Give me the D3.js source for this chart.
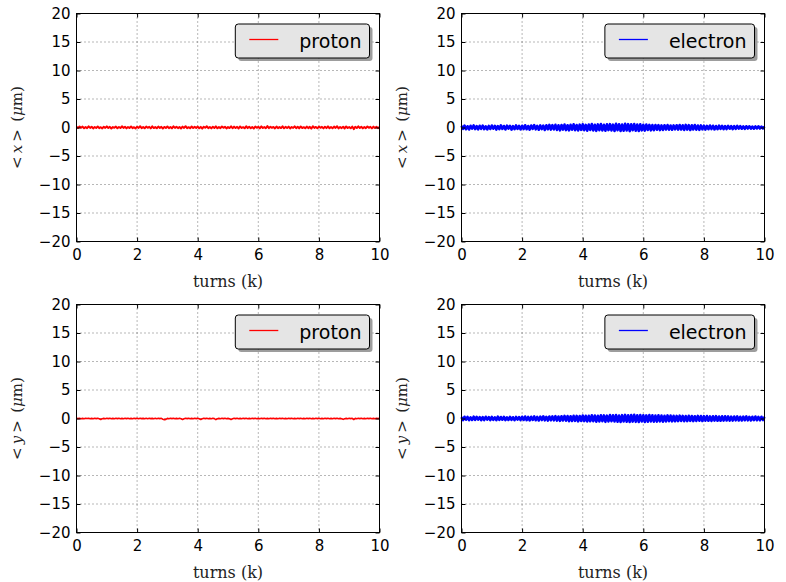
<!DOCTYPE html>
<html>
<head>
<meta charset="utf-8">
<script src="https://cdn.jsdelivr.net/npm/d3@7"></script>
<style>
  html, body { margin: 0; padding: 0; background: #fff; }
  svg { display: block; }
</style>
</head>
<body>
<svg id="fig" width="786" height="582"></svg>
<script>
// Beam centroid offsets over 10k turns, sampled every 50 turns (µm)
const turnsStepK = 0.05;
const xTicks = [0, 2, 4, 6, 8, 10];
const yTicks = [-20, -15, -10, -5, 0, 5, 10, 15, 20];

const protonX = [
  0.12,-0.10,0.18,-0.05,0.15,-0.14,0.08,-0.12,0.20,-0.06,0.13,-0.16,0.09,-0.08,0.17,-0.11,0.05,-0.15,0.14,-0.07,
  0.19,-0.09,0.11,-0.18,0.07,-0.04,0.16,-0.13,0.10,-0.10,0.21,-0.06,0.12,-0.15,0.08,-0.09,0.18,-0.12,0.06,-0.17,
  0.14,-0.08,0.22,-0.11,0.09,-0.14,0.15,-0.05,0.11,-0.16,0.19,-0.10,0.07,-0.13,0.16,-0.07,0.12,-0.18,0.10,-0.09,
  0.17,-0.12,0.08,-0.15,0.20,-0.06,0.13,-0.11,0.09,-0.17,0.15,-0.08,0.23,-0.12,0.06,-0.14,0.18,-0.10,0.11,-0.07,
  0.16,-0.13,0.10,-0.19,0.14,-0.05,0.21,-0.11,0.08,-0.15,0.12,-0.09,0.19,-0.14,0.07,-0.12,0.17,-0.06,0.13,-0.16,
  0.09,-0.10,0.20,-0.13,0.15,-0.08,0.11,-0.17,0.18,-0.07,0.06,-0.14,0.22,-0.10,0.13,-0.12,0.10,-0.18,0.16,-0.05,
  0.12,-0.15,0.19,-0.09,0.08,-0.13,0.24,-0.11,0.14,-0.06,0.10,-0.16,0.17,-0.12,0.07,-0.10,0.21,-0.14,0.11,-0.08,
  0.15,-0.17,0.09,-0.07,0.20,-0.12,0.13,-0.15,0.18,-0.09,0.06,-0.13,0.16,-0.11,0.12,-0.19,0.22,-0.08,0.10,-0.14,
  0.17,-0.06,0.11,-0.16,0.14,-0.10,0.19,-0.13,0.08,-0.12,0.15,-0.07,0.21,-0.15,0.09,-0.11,0.13,-0.17,0.18,-0.09,
  0.07,-0.14,0.16,-0.28,0.12,-0.10,0.20,-0.08,0.14,-0.15,0.10,-0.12,0.18,-0.06,0.11,-0.16,0.15,-0.09,0.13,-0.11,
  0.08
];

const electronX = [
  0.28,-0.25,0.33,-0.30,0.22,-0.35,0.31,-0.20,0.36,-0.27,0.24,-0.32,0.30,-0.23,0.34,-0.29,0.21,-0.33,0.27,-0.26,
  0.35,-0.22,0.29,-0.36,0.25,-0.28,0.38,-0.24,0.26,-0.34,0.32,-0.21,0.30,-0.37,0.23,-0.29,0.36,-0.25,0.28,-0.33,
  0.31,-0.27,0.40,-0.30,0.26,-0.38,0.34,-0.24,0.42,-0.32,0.29,-0.40,0.37,-0.28,0.33,-0.43,0.39,-0.31,0.45,-0.36,
  0.41,-0.34,0.47,-0.42,0.38,-0.49,0.44,-0.37,0.52,-0.45,0.40,-0.50,0.48,-0.39,0.55,-0.46,0.43,-0.53,0.50,-0.41,
  0.57,-0.48,0.45,-0.55,0.52,-0.44,0.60,-0.51,0.47,-0.58,0.54,-0.46,0.62,-0.53,0.49,-0.57,0.55,-0.45,0.59,-0.52,
  0.50,-0.60,0.64,-0.49,0.56,-0.62,0.53,-0.55,0.66,-0.51,0.58,-0.63,0.55,-0.48,0.61,-0.57,0.52,-0.60,0.57,-0.50,
  0.48,-0.54,0.51,-0.43,0.46,-0.50,0.42,-0.47,0.44,-0.39,0.41,-0.45,0.37,-0.42,0.39,-0.35,0.43,-0.38,0.34,-0.40,
  0.36,-0.33,0.40,-0.37,0.44,-0.35,0.38,-0.42,0.46,-0.36,0.41,-0.44,0.39,-0.34,0.43,-0.38,0.35,-0.41,0.37,-0.32,
  0.33,-0.36,0.29,-0.31,0.35,-0.27,0.30,-0.33,0.26,-0.29,0.32,-0.24,0.28,-0.30,0.25,-0.27,0.29,-0.22,0.26,-0.28,
  0.23,-0.25,0.27,-0.20,0.24,-0.22,0.19,-0.24,0.22,-0.18,0.21,-0.20,0.17,-0.21,0.19,-0.16,0.20,-0.18,0.15,-0.17,
  0.16
];

const protonY = [
  0.03,-0.02,0.04,-0.03,0.02,-0.04,0.03,-0.01,0.05,-0.03,0.02,-0.04,0.04,-0.02,0.03,-0.05,-0.18,-0.03,0.02,-0.04,
  0.03,-0.02,0.04,-0.05,0.02,-0.03,0.05,-0.02,0.03,-0.04,0.02,-0.03,0.04,-0.02,0.03,-0.05,0.02,-0.03,0.04,-0.02,
  0.03,-0.04,0.05,-0.02,0.02,-0.05,0.03,-0.03,0.04,-0.02,0.02,-0.04,0.03,-0.03,0.05,-0.02,0.03,-0.12,-0.20,-0.15,
  0.02,-0.03,0.04,-0.02,0.03,-0.05,0.02,-0.04,0.04,-0.03,-0.17,-0.04,0.03,-0.02,0.05,-0.03,0.02,-0.04,0.03,-0.02,
  0.04,-0.05,-0.16,-0.03,0.03,-0.02,0.04,-0.03,0.02,-0.04,0.03,-0.02,-0.19,-0.05,0.02,-0.03,0.04,-0.02,0.03,-0.05,
  0.02,-0.03,-0.17,-0.04,0.03,-0.02,0.05,-0.03,0.02,-0.04,0.03,-0.02,0.04,-0.03,0.02,-0.05,0.03,-0.02,0.04,-0.03,
  0.02,-0.04,0.03,-0.02,0.05,-0.03,0.02,-0.04,0.03,-0.02,0.04,-0.05,0.02,-0.03,0.03,-0.02,0.04,-0.03,0.02,-0.04,
  0.03,-0.02,0.05,-0.03,0.02,-0.04,0.03,-0.02,0.04,-0.03,0.02,-0.05,0.03,-0.02,0.04,-0.03,0.02,-0.04,0.03,-0.02,
  0.04,-0.03,0.02,-0.05,0.03,-0.02,0.04,-0.03,0.02,-0.04,0.03,-0.02,0.05,-0.03,0.02,-0.04,-0.15,-0.03,0.02,-0.04,
  0.03,-0.02,0.04,-0.18,0.02,-0.04,0.03,-0.02,0.05,-0.03,0.02,-0.04,0.03,-0.02,0.04,-0.03,0.02,-0.05,0.03,-0.02,
  0.03
];

const electronY = [
  0.25,-0.28,0.31,-0.22,0.27,-0.30,0.20,-0.26,0.32,-0.24,0.29,-0.21,0.26,-0.31,0.23,-0.27,0.30,-0.20,0.24,-0.29,
  0.28,-0.23,0.21,-0.30,0.33,-0.25,0.26,-0.22,0.30,-0.28,0.19,-0.26,0.29,-0.24,0.22,-0.31,0.27,-0.20,0.25,-0.27,
  0.30,-0.26,0.34,-0.29,0.27,-0.33,0.31,-0.25,0.36,-0.30,0.28,-0.35,0.33,-0.27,0.38,-0.32,0.29,-0.36,0.34,-0.31,
  0.37,-0.33,0.41,-0.36,0.35,-0.42,0.39,-0.34,0.45,-0.38,0.43,-0.47,0.40,-0.44,0.48,-0.41,0.46,-0.50,0.44,-0.42,
  0.51,-0.45,0.48,-0.53,0.46,-0.49,0.55,-0.47,0.52,-0.56,0.49,-0.51,0.57,-0.48,0.54,-0.58,0.50,-0.53,0.59,-0.49,
  0.56,-0.52,0.61,-0.55,0.53,-0.60,0.58,-0.51,0.63,-0.57,0.55,-0.62,0.59,-0.54,0.64,-0.58,0.56,-0.61,0.60,-0.53,
  0.57,-0.59,0.54,-0.56,0.60,-0.52,0.55,-0.57,0.51,-0.54,0.56,-0.50,0.53,-0.55,0.49,-0.52,0.54,-0.48,0.51,-0.50,
  0.47,-0.49,0.45,-0.46,0.50,-0.43,0.46,-0.47,0.42,-0.45,0.48,-0.41,0.44,-0.46,0.40,-0.43,0.45,-0.39,0.42,-0.44,
  0.41,-0.38,0.43,-0.40,0.37,-0.42,0.39,-0.36,0.41,-0.39,0.35,-0.40,0.38,-0.37,0.40,-0.34,0.36,-0.38,0.33,-0.36,
  0.35,-0.32,0.37,-0.34,0.31,-0.35,0.33,-0.30,0.36,-0.32,0.29,-0.33,0.31,-0.29,0.34,-0.30,0.28,-0.32,0.30,-0.27,
  0.29
];

const panels = [
  { values: protonX,   name: "proton",   color: "#ff0000", width: 2.0, coord: "x", left: 76.5,  top: 13.5 },
  { values: electronX, name: "electron", color: "#0000ff", width: 2.6, coord: "x", left: 461.5, top: 13.5 },
  { values: protonY,   name: "proton",   color: "#ff0000", width: 1.6, coord: "y", left: 76.5,  top: 304.5 },
  { values: electronY, name: "electron", color: "#0000ff", width: 2.6, coord: "y", left: 461.5, top: 304.5 }
];

const W = 303, H = 228;
const svg = d3.select("#fig");
const fmt = d => d < 0 ? "\u2212" + Math.abs(d) : String(d);
const sansFont = "'DejaVu Sans', 'Liberation Sans', sans-serif";
const serifFont = "'DejaVu Serif', 'Liberation Serif', serif";

panels.forEach(p => {
  const g = svg.append("g").attr("transform", `translate(${p.left},${p.top})`);
  const x = d3.scaleLinear().domain([0, 10]).range([0, W]);
  const y = d3.scaleLinear().domain([-20, 20]).range([H, 0]);

  // dotted grid
  g.append("g").selectAll("line").data(xTicks.slice(1, -1)).join("line")
    .attr("x1", d => x(d)).attr("x2", d => x(d)).attr("y1", 0).attr("y2", H)
    .attr("stroke", "#000").attr("stroke-width", 0.8).attr("stroke-dasharray", "1,3").attr("opacity", 0.7);
  g.append("g").selectAll("line").data(yTicks.slice(1, -1)).join("line")
    .attr("y1", d => y(d)).attr("y2", d => y(d)).attr("x1", 0).attr("x2", W)
    .attr("stroke", "#000").attr("stroke-width", 0.8).attr("stroke-dasharray", "1,3").attr("opacity", 0.7);

  // data line
  const line = d3.line().x((d, i) => x(i * turnsStepK)).y(d => y(d));
  g.append("path").datum(p.values)
    .attr("d", line).attr("fill", "none")
    .attr("stroke", p.color).attr("stroke-width", p.width).attr("stroke-linejoin", "round");

  // axes with inward ticks on all four sides
  const bottom = g.append("g").attr("transform", `translate(0,${H})`)
    .call(d3.axisBottom(x).tickValues(xTicks).tickSizeInner(-4).tickSizeOuter(0).tickPadding(8).tickFormat(fmt));
  const left = g.append("g")
    .call(d3.axisLeft(y).tickValues(yTicks).tickSizeInner(-4).tickSizeOuter(0).tickPadding(8).tickFormat(fmt));
  const top = g.append("g")
    .call(d3.axisTop(x).tickValues(xTicks).tickSizeInner(-4).tickSizeOuter(0).tickFormat(""));
  const right = g.append("g").attr("transform", `translate(${W},0)`)
    .call(d3.axisRight(y).tickValues(yTicks).tickSizeInner(-4).tickSizeOuter(0).tickFormat(""));
  [bottom, left, top, right].forEach(a => {
    a.select(".domain").remove();
    a.selectAll(".tick line").attr("stroke", "#000").attr("stroke-width", 1);
    a.selectAll("text").attr("font-family", sansFont).attr("font-size", 15).attr("fill", "#000");
  });
  left.selectAll("text").attr("dx", "2");

  // frame
  g.append("rect").attr("width", W).attr("height", H)
    .attr("fill", "none").attr("stroke", "#000").attr("stroke-width", 1);

  // axis labels
  g.append("text").attr("x", W / 2).attr("y", H + 45)
    .attr("text-anchor", "middle").attr("font-family", serifFont).attr("font-size", 16)
    .attr("fill", "#222").text("turns (k)");
  const yl = g.append("text")
    .attr("transform", `translate(-55,${H / 2}) rotate(-90)`)
    .attr("text-anchor", "middle").attr("font-family", serifFont).attr("font-size", 15)
    .attr("fill", "#222");
  yl.append("tspan").text("<\u2009");
  yl.append("tspan").attr("font-style", "italic").text(p.coord);
  yl.append("tspan").text("\u2009>\u2002(");
  yl.append("tspan").attr("font-style", "italic").text("\u03bc");
  yl.append("tspan").text("m)");

  // legend
  const lg = g.append("g");
  const txt = lg.append("text").attr("font-family", sansFont).attr("font-size", 19)
    .attr("fill", "#000").text(p.name);
  const tw = txt.node().getComputedTextLength();
  const bw = 64 + tw + 8, bh = 34;
  const bx = W - 10 - bw, by = 10.5;
  lg.insert("rect", "text").attr("x", bx + 3).attr("y", by + 3).attr("width", bw).attr("height", bh)
    .attr("rx", 3).attr("fill", "#4d4d4d").attr("opacity", 0.55);
  lg.insert("rect", "text").attr("x", bx).attr("y", by).attr("width", bw).attr("height", bh)
    .attr("rx", 3).attr("fill", "#e5e5e5").attr("stroke", "#000").attr("stroke-width", 1);
  lg.append("line").attr("x1", bx + 14).attr("x2", bx + 43)
    .attr("y1", by + 15.5).attr("y2", by + 15.5).attr("stroke", p.color).attr("stroke-width", 1.3);
  txt.attr("x", bx + 64).attr("y", by + bh / 2 + 6.5);
});
</script>
</body>
</html>
